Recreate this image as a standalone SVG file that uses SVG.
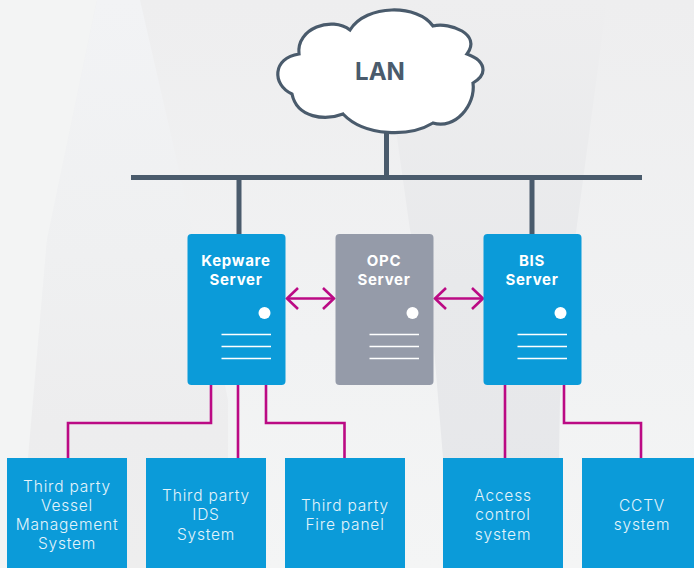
<svg xmlns="http://www.w3.org/2000/svg" width="694" height="568" viewBox="0 0 694 568">
<style>
.dark{stroke:#4a5b6c;stroke-width:5;fill:none}
.mag{stroke:#bb0a84;stroke-width:2.6;fill:none}
.srv{stroke:#fff;stroke-width:1.3;fill:none}
.bl{fill:#0b9bd9}
.t{font-family:"Inter","Noto Sans",sans-serif;text-anchor:middle}
.st{font-size:15px;font-weight:700;fill:#fff;letter-spacing:.7px}
.bt{font-size:15.500px;font-weight:300;fill:#e4f4fb;letter-spacing:.8px}
</style>
<defs>
<marker id="ah" markerUnits="userSpaceOnUse" markerWidth="16" markerHeight="24" refX="13.500" refY="12" orient="auto-start-reverse"><path d="M2.500 1.500L13.500 12L2.500 22.500" fill="none" stroke="#bb0a84" stroke-width="2.600"/></marker>
<linearGradient id="bg" x1="0" y1="0" x2="0" y2="1"><stop offset="0" stop-color="#eeeeef"/><stop offset=".6" stop-color="#f1f2f3"/><stop offset="1" stop-color="#f4f5f5"/></linearGradient>
<linearGradient id="wedge" x1="0" y1="0" x2="0" y2="1"><stop offset="0" stop-color="#f2f3f5"/><stop offset=".45" stop-color="#eff0f1"/><stop offset=".75" stop-color="#ededee"/><stop offset="1" stop-color="#eeeeee"/></linearGradient>
<linearGradient id="band" x1="0" y1="0" x2="0" y2="1"><stop offset="0" stop-color="#eeeeef"/><stop offset=".5" stop-color="#e8e9eb"/><stop offset="1" stop-color="#e6e7ea"/></linearGradient>
</defs>
<g id="background">
<rect width="694" height="568" fill="url(#bg)"/>
<path d="M0 0H97L47 240L28 458L28 568H0Z" fill="#f3f4f4"/>
<path d="M97 0H140L195 240L228 400V568H28V458L47 240Z" fill="url(#wedge)"/>
<path d="M607 0L575 240L560 400L557 568H443V458L430 300L410 230L396 130L385 0Z" fill="url(#band)"/>
</g>
<g id="connectors">
<path class="dark" d="M386.500 132V180M131 177.500H642M239 177.500V234M532 177.500V234"/>
<path class="mag" d="M211 385V423H68V458M238 385V458M266 385V423H344.500V458M505 385V458M564 385V423H641V458"/>
<path class="mag" d="M287 298.500H334" marker-start="url(#ah)" marker-end="url(#ah)"/>
<path class="mag" d="M435 298.500H483" marker-start="url(#ah)" marker-end="url(#ah)"/>
</g>
<g id="lan">
<path d="M350 30C366 4 418 4 433 26C450 22 482 34 467 54C478 58 483 64 483 70C483 76 478 80 473 83C476 105 455 130 433 123C410 137 365 137 343 114C325 121 297 118 292 94C272 85 272 58 299 54C296 28 332 16 350 30Z" fill="#fff" stroke="#4a5b6c" stroke-width="3.200"/>
<text class="t" x="380" y="80" font-size="24" font-weight="700" fill="#4a5b6c">LAN</text>
</g>
<g id="kepware">
<rect class="bl" x="187.500" y="234" width="98" height="151" rx="4"/>
<text class="t st" x="236" y="266">Kepware</text><text class="t st" x="236" y="285">Server</text>
<circle cx="264.500" cy="313" r="6" fill="#fff"/>
<path class="srv" d="M221.500 334.500H271M221.500 346.500H271M221.500 358.500H271"/>
</g>
<g id="opc">
<rect x="335.500" y="234" width="98" height="151" rx="4" fill="#959ba9"/>
<text class="t st" x="384" y="266">OPC</text><text class="t st" x="384" y="285">Server</text>
<circle cx="412.500" cy="313" r="6" fill="#fff"/>
<path class="srv" d="M369.500 334.500H419M369.500 346.500H419M369.500 358.500H419"/>
</g>
<g id="bis">
<rect class="bl" x="483.500" y="234" width="98" height="151" rx="4"/>
<text class="t st" x="532" y="266">BIS</text><text class="t st" x="532" y="285">Server</text>
<circle cx="560.500" cy="313" r="6" fill="#fff"/>
<path class="srv" d="M517.500 334.500H567M517.500 346.500H567M517.500 358.500H567"/>
</g>
<g id="vessel">
<rect class="bl" x="7" y="458" width="120" height="110"/>
<text class="t bt" x="67" y="492">Third party</text><text class="t bt" x="67" y="511">Vessel</text><text class="t bt" x="67" y="530">Management</text><text class="t bt" x="67" y="549">System</text>
</g>
<g id="ids">
<rect class="bl" x="146" y="458" width="120" height="110"/>
<text class="t bt" x="206" y="501">Third party</text><text class="t bt" x="206" y="520">IDS</text><text class="t bt" x="206" y="540">System</text>
</g>
<g id="fire">
<rect class="bl" x="285" y="458" width="120" height="110"/>
<text class="t bt" x="345" y="511">Third party</text><text class="t bt" x="345" y="530">Fire panel</text>
</g>
<g id="access">
<rect class="bl" x="443" y="458" width="120" height="110"/>
<text class="t bt" x="503" y="501">Access</text><text class="t bt" x="503" y="520">control</text><text class="t bt" x="503" y="540">system</text>
</g>
<g id="cctv">
<rect class="bl" x="582" y="458" width="112" height="110"/>
<text class="t bt" x="642" y="511">CCTV</text><text class="t bt" x="642" y="530">system</text>
</g>
</svg>
